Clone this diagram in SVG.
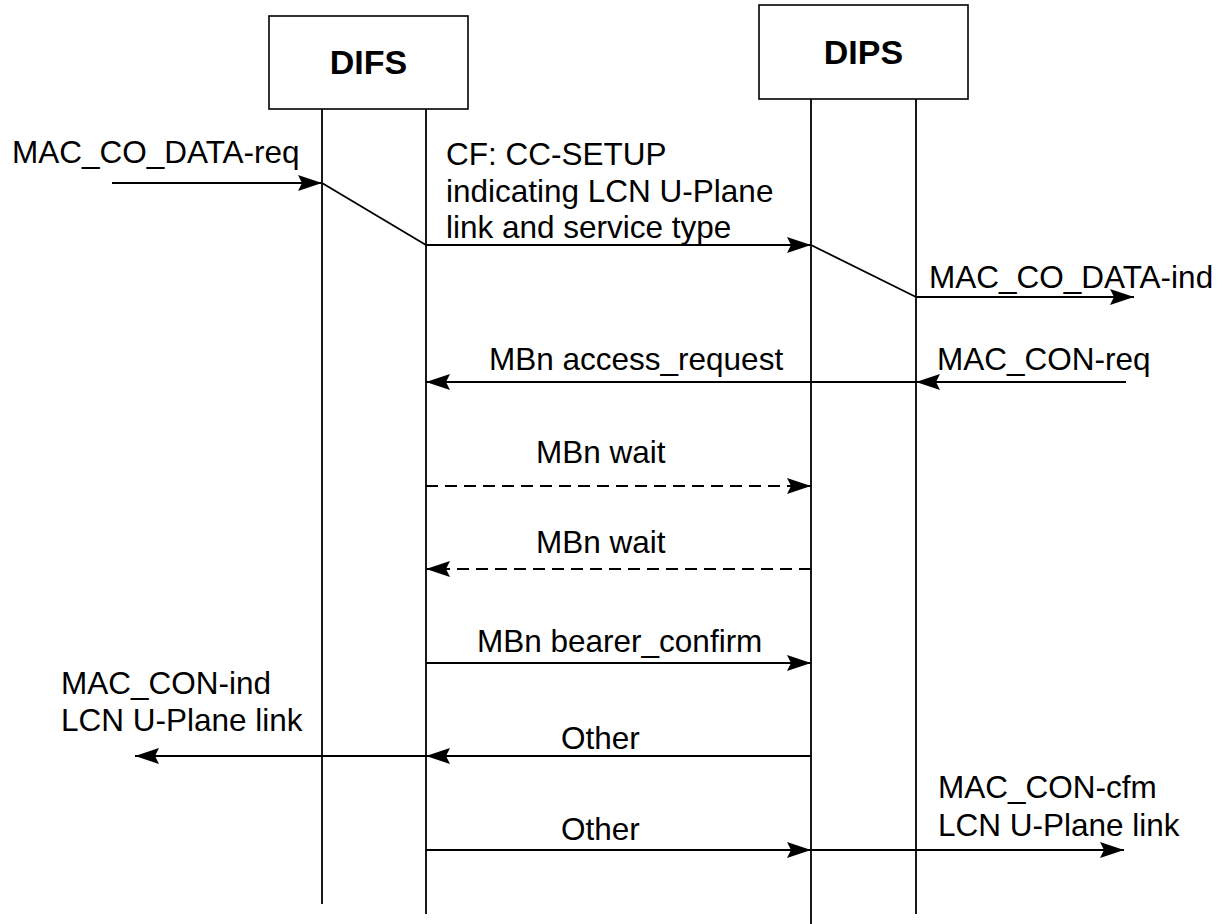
<svg xmlns="http://www.w3.org/2000/svg" width="1229" height="924" viewBox="0 0 1229 924">
<style>
.box{fill:#fff;stroke:#000;stroke-width:1.6}
.life{stroke:#000;stroke-width:1.8;fill:none}
.msg{stroke:#000;stroke-width:1.8;fill:none}
.dash{stroke-dasharray:12 7}
.t{font-family:"Liberation Sans",Arial,sans-serif;font-size:31.5px;fill:#000}
.h{font-family:"Liberation Sans",Arial,sans-serif;font-size:34px;font-weight:bold;fill:#000}
</style>
<defs>
<marker id="ah" markerUnits="userSpaceOnUse" markerWidth="26" markerHeight="18" refX="24" refY="8" orient="auto">
<path d="M0,0 L24,8 L0,16 L4,8 z" fill="#000"/>
</marker>
</defs>
<rect width="1229" height="924" fill="#fff"/>
<g id="difs">
<rect class="box" x="269" y="16" width="199" height="93"/>
<text class="h" x="368.5" y="74" text-anchor="middle">DIFS</text>
<line class="life" x1="322" y1="109" x2="322" y2="904"/>
<line class="life" x1="426" y1="109" x2="426" y2="914"/>
</g>
<g id="dips">
<rect class="box" x="759" y="5" width="209" height="94"/>
<text class="h" x="863.5" y="64" text-anchor="middle">DIPS</text>
<line class="life" x1="811" y1="99" x2="811" y2="924"/>
<line class="life" x1="916" y1="99" x2="916" y2="914"/>
</g>
<g id="connectors">
<line class="msg" x1="112" y1="183" x2="322" y2="183" marker-end="url(#ah)"/>
<line class="msg" x1="322" y1="183" x2="426" y2="245"/>
<line class="msg" x1="426" y1="245" x2="811" y2="245" marker-end="url(#ah)"/>
<line class="msg" x1="811" y1="245" x2="916" y2="297"/>
<line class="msg" x1="916" y1="297" x2="1134" y2="297" marker-end="url(#ah)"/>
<line class="msg" x1="1126" y1="382" x2="916" y2="382" marker-end="url(#ah)"/>
<line class="msg" x1="916" y1="382" x2="426" y2="382" marker-end="url(#ah)"/>
<line class="msg dash" x1="426" y1="486" x2="811" y2="486" marker-end="url(#ah)"/>
<line class="msg dash" x1="811" y1="569" x2="426" y2="569" marker-end="url(#ah)"/>
<line class="msg" x1="426" y1="663" x2="811" y2="663" marker-end="url(#ah)"/>
<line class="msg" x1="811" y1="756" x2="426" y2="756" marker-end="url(#ah)"/>
<line class="msg" x1="426" y1="756" x2="135" y2="756" marker-end="url(#ah)"/>
<line class="msg" x1="426" y1="850" x2="811" y2="850" marker-end="url(#ah)"/>
<line class="msg" x1="811" y1="850" x2="1124" y2="850" marker-end="url(#ah)"/>
</g>
<g id="labels">
<text class="t" x="12" y="163">MAC_CO_DATA-req</text>
<text class="t" x="446" y="165">CF: CC-SETUP</text>
<text class="t" x="446" y="202">indicating LCN U-Plane</text>
<text class="t" x="446" y="238">link and service type</text>
<text class="t" x="929" y="288">MAC_CO_DATA-ind</text>
<text class="t" x="489" y="370">MBn access_request</text>
<text class="t" x="937" y="370">MAC_CON-req</text>
<text class="t" x="536" y="463">MBn wait</text>
<text class="t" x="536" y="553">MBn wait</text>
<text class="t" x="477" y="652">MBn bearer_confirm</text>
<text class="t" x="61" y="694">MAC_CON-ind</text>
<text class="t" x="61" y="731">LCN U-Plane link</text>
<text class="t" x="561" y="749">Other</text>
<text class="t" x="938" y="798">MAC_CON-cfm</text>
<text class="t" x="938" y="836">LCN U-Plane link</text>
<text class="t" x="561" y="840">Other</text>
</g>
</svg>
